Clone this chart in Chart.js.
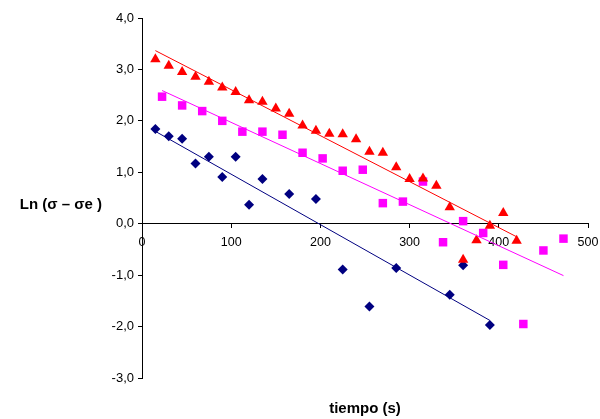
<!DOCTYPE html>
<html>
<head>
<meta charset="utf-8">
<script src="https://cdn.jsdelivr.net/npm/chart.js@4.4.1/dist/chart.umd.min.js"></script>
<style>
  html, body { margin: 0; padding: 0; background: #fff; }
  #contenedor { width: 600px; height: 419px; position: relative; }
</style>
</head>
<body>
<div id="contenedor"><canvas id="grafico"></canvas></div>
<script>
// series medidas: tiempo (s) y Ln(sigma - sigma e)
const tiemposRojo = [15, 30, 45, 60, 75, 90, 105, 120, 135, 150, 165, 180, 195, 210,
  225, 240, 255, 270, 285, 300, 315, 330, 345, 360, 375, 390, 405, 420]
const valoresRojo = [3.20, 3.07, 2.95, 2.86, 2.76, 2.65, 2.56, 2.40, 2.37, 2.24, 2.14, 1.91, 1.81, 1.75,
  1.74, 1.64, 1.40, 1.38, 1.10, 0.87, 0.88, 0.74, 0.32, -0.70, -0.32, -0.04, 0.21, -0.33]

const tiemposRosa = [22.5, 45, 67.5, 90, 112.5, 135, 157.5, 180, 202.5, 225, 247.5,
  270, 292.5, 315, 337.5, 360, 382.5, 405, 427.5, 450, 472.5]
const valoresRosa = [2.47, 2.30, 2.19, 2.00, 1.79, 1.79, 1.73, 1.38, 1.27, 1.03, 1.05,
  0.40, 0.43, 0.82, -0.36, 0.05, -0.18, -0.80, -1.95, -0.52, -0.29]

const tiemposAzul = [15, 30, 45, 60, 75, 90, 105, 120, 135, 165, 195, 225, 255, 285, 345, 360, 390]
const valoresAzul = [1.84, 1.70, 1.65, 1.17, 1.30, 0.91, 1.30, 0.37, 0.87, 0.58, 0.48,
  -0.89, -1.61, -0.86, -1.38, -0.81, -1.97]

const ticksX = [0, 100, 200, 300, 400, 500]
const ticksY = [-3, -2, -1, 0, 1, 2, 3, 4]

const tituloX = "tiempo (s)"
const tituloY = "Ln (σ – σe )"

const fuente = '"Liberation Sans", Arial, sans-serif'

const aPuntos = (xs, ys) => xs.map((x, i) => ({ x: x, y: ys[i] }))

// recta de minimos cuadrados entre el primer y el ultimo tiempo
const tendencia = (xs, ys) => {
  const n = xs.length
  const mx = xs.reduce((a, b) => a + b, 0) / n
  const my = ys.reduce((a, b) => a + b, 0) / n
  let sxy = 0, sxx = 0
  for (let i = 0; i < n; i++) {
    sxy += (xs[i] - mx) * (ys[i] - my)
    sxx += (xs[i] - mx) * (xs[i] - mx)
  }
  const m = sxy / sxx
  const b = my - m * mx
  const x0 = Math.min(...xs), x1 = Math.max(...xs)
  return [{ x: x0, y: m * x0 + b }, { x: x1, y: m * x1 + b }]
}

const serie = (datos, color, estilo, radio) => ({
  data: datos,
  backgroundColor: color,
  borderColor: color,
  borderWidth: 0,
  pointStyle: estilo,
  pointRadius: radio,
  pointHoverRadius: radio,
  order: 1
})

const recta = (datos, color) => ({
  data: datos,
  showLine: true,
  borderColor: color,
  borderWidth: 1,
  pointRadius: 0,
  fill: false,
  order: 0
})

// titulos de los ejes: el de Y va horizontal, el de X al pie del grafico
const titulosEjes = {
  id: 'titulosEjes',
  afterDraw(chart) {
    const { ctx, chartArea } = chart
    ctx.save()
    ctx.fillStyle = '#000'
    ctx.font = 'bold 15px ' + fuente
    ctx.textBaseline = 'middle'
    ctx.textAlign = 'right'
    ctx.fillText(tituloY, 102, 205)
    ctx.textBaseline = 'alphabetic'
    ctx.textAlign = 'center'
    ctx.fillText(tituloX, (chartArea.left + chartArea.right) / 2, 413)
    ctx.restore()
  }
}

const ctx = document.getElementById('grafico')

new Chart(ctx, {
  type: 'scatter',
  data: {
    datasets: [
      serie(aPuntos(tiemposRojo, valoresRojo), '#FF0000', 'triangle', 6),
      serie(aPuntos(tiemposRosa, valoresRosa), '#FF00FF', 'rect', 6),
      serie(aPuntos(tiemposAzul, valoresAzul), '#000080', 'rectRot', 5),
      recta(tendencia(tiemposRojo, valoresRojo), '#FF0000'),
      recta(tendencia(tiemposRosa, valoresRosa), '#FF00FF'),
      recta(tendencia(tiemposAzul, valoresAzul), '#000080')
    ]
  },
  options: {
    responsive: true,
    maintainAspectRatio: false,
    animation: false,
    layout: { padding: { top: 18, right: 12, bottom: 41, left: 0 } },
    plugins: {
      legend: { display: false },
      tooltip: { enabled: false }
    },
    scales: {
      x: {
        type: 'linear',
        min: ticksX[0],
        max: ticksX[ticksX.length - 1],
        position: { y: 0 },
        afterBuildTicks: (eje) => { eje.ticks = ticksX.map(v => ({ value: v })) },
        // el eje cruza en y = 0, sin reservar margen para las etiquetas extremas
        afterFit: (eje) => { eje.paddingLeft = 0; eje.paddingRight = 0 },
        ticks: { color: '#000', font: { family: fuente, size: 12.5 }, padding: 7, maxRotation: 0 },
        grid: { drawOnChartArea: false, drawTicks: true, tickLength: 4, color: '#000' },
        border: { color: '#000', width: 1 }
      },
      y: {
        type: 'linear',
        min: ticksY[0],
        max: ticksY[ticksY.length - 1],
        afterBuildTicks: (eje) => { eje.ticks = ticksY.map(v => ({ value: v })) },
        afterFit: (eje) => { eje.width = 142 },
        ticks: {
          color: '#000',
          font: { family: fuente, size: 13 },
          padding: 4,
          callback: (v) => v.toFixed(1).replace('.', ',')
        },
        grid: { drawOnChartArea: false, drawTicks: true, tickLength: 4, color: '#000' },
        border: { color: '#000', width: 1 }
      }
    }
  },
  plugins: [titulosEjes]
})
</script>
</body>
</html>
